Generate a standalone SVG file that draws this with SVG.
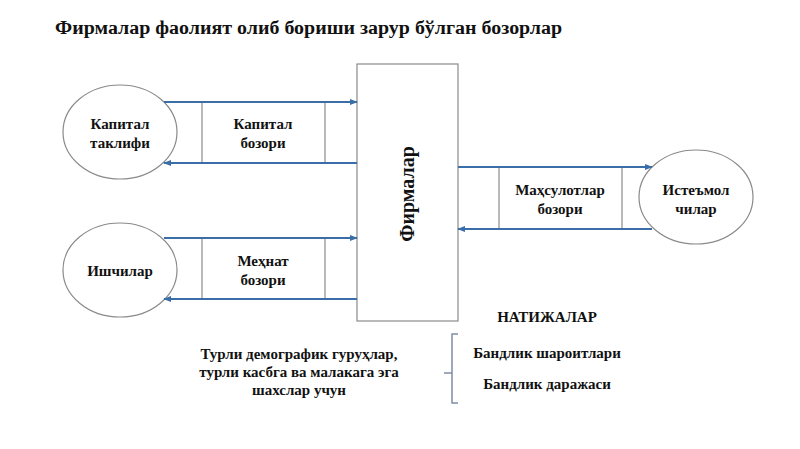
<svg xmlns="http://www.w3.org/2000/svg" width="800" height="449" viewBox="0 0 800 449">
<style>
text{font-family:"Liberation Serif","DejaVu Serif","Times New Roman",serif;font-weight:bold;fill:#111;}
.t{font-size:15px;text-anchor:middle;}
.node{fill:#fff;stroke:#8a8a8a;stroke-width:1.2;}
.box{fill:none;stroke:#8a8a8a;stroke-width:1.2;}
.flow{fill:none;stroke:#3a6ea8;stroke-width:2;}
</style>
<defs>
<marker id="ah" viewBox="0 0 10 10" refX="9" refY="5" markerWidth="4" markerHeight="4" orient="auto">
<path d="M0,1 L10,5 L0,9 z" fill="#3a6ea8"/>
</marker>
</defs>
<rect width="800" height="449" fill="#fff"/>
<text x="55" y="34" font-size="18" textLength="507" lengthAdjust="spacingAndGlyphs">Фирмалар фаолият олиб бориши зарур бўлган бозорлар</text>

<g id="firms">
<rect x="357" y="64" width="101" height="257" class="node"/>
<text transform="translate(414,194) rotate(-90)" font-size="20" text-anchor="middle">Фирмалар</text>
</g>

<g id="capital-supply">
<ellipse cx="120" cy="132" rx="57" ry="47" class="node"/>
<text class="t" x="120" y="129">Капитал</text>
<text class="t" x="120" y="148">таклифи</text>
</g>

<g id="workers">
<ellipse cx="120" cy="270" rx="57" ry="47" class="node"/>
<text class="t" x="120" y="276">Ишчилар</text>
</g>

<g id="consumers">
<ellipse cx="696" cy="197" rx="57" ry="47" class="node"/>
<text class="t" x="696" y="195">Истеъмол</text>
<text class="t" x="696" y="214">чилар</text>
</g>

<g id="capital-market">
<line x1="202" y1="102" x2="202" y2="163" class="box"/>
<line x1="325" y1="102" x2="325" y2="163" class="box"/>
<text class="t" x="263" y="129">Капитал</text>
<text class="t" x="263" y="148">бозори</text>
</g>

<g id="labour-market">
<line x1="202" y1="238" x2="202" y2="299" class="box"/>
<line x1="325" y1="238" x2="325" y2="299" class="box"/>
<text class="t" x="263" y="266">Меҳнат</text>
<text class="t" x="263" y="285">бозори</text>
</g>

<g id="goods-market">
<line x1="499" y1="167" x2="499" y2="229" class="box"/>
<line x1="622" y1="167" x2="622" y2="229" class="box"/>
<text class="t" x="560" y="195">Маҳсулотлар</text>
<text class="t" x="560" y="214">бозори</text>
</g>

<g id="connectors">
<line x1="164" y1="102" x2="357" y2="102" class="flow" marker-end="url(#ah)"/>
<line x1="357" y1="163" x2="164" y2="163" class="flow" marker-end="url(#ah)"/>
<line x1="164" y1="238" x2="357" y2="238" class="flow" marker-end="url(#ah)"/>
<line x1="357" y1="299" x2="164" y2="299" class="flow" marker-end="url(#ah)"/>
<line x1="458" y1="167" x2="652" y2="167" class="flow" marker-end="url(#ah)"/>
<line x1="652" y1="229" x2="458" y2="229" class="flow" marker-end="url(#ah)"/>
</g>

<g id="results">
<text class="t" x="547" y="322">НАТИЖАЛАР</text>
<path d="M458,334 L452,334 L452,403 L458,403 M444,373 L452,373" fill="none" stroke="#7f8fa6" stroke-width="1.5"/>
<text class="t" x="547" y="358">Бандлик шароитлари</text>
<text class="t" x="547" y="389">Бандлик даражаси</text>
</g>

<g id="groups">
<text class="t" x="299" y="359">Турли демографик гуруҳлар,</text>
<text class="t" x="299" y="377">турли касбга ва малакага эга</text>
<text class="t" x="299" y="395">шахслар учун</text>
</g>
</svg>
